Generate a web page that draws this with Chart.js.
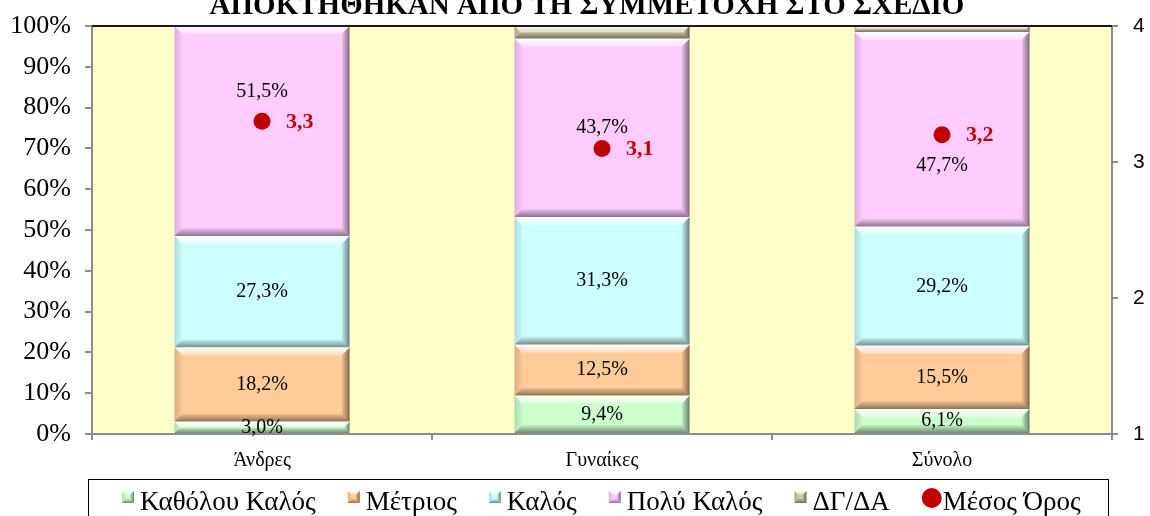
<!DOCTYPE html>
<html>
<head>
<meta charset="utf-8">
<script src="https://cdn.jsdelivr.net/npm/chart.js@4/dist/chart.umd.min.js"></script>
<style>
html,body{margin:0;padding:0;background:#fff;}
#wrap{width:1150px;height:516px;position:relative;overflow:hidden;}
</style>
</head>
<body>
<div id="wrap"><canvas id="c" width="1150" height="516"></canvas></div>
<script>
// ---- data ----
const titleText = 'ΑΠΟΚΤΗΘΗΚΑΝ ΑΠΟ ΤΗ ΣΥΜΜΕΤΟΧΗ ΣΤΟ ΣΧΕΔΙΟ';
const categories = ['Άνδρες', 'Γυναίκες', 'Σύνολο'];
const seriesNames = ['Καθόλου Καλός', 'Μέτριος', 'Καλός', 'Πολύ Καλός', 'ΔΓ/ΔΑ'];
const katholouKalos = [3.0, 9.4, 6.1];
const metrios = [18.2, 12.5, 15.5];
const kalos = [27.3, 31.3, 29.2];
const polyKalos = [51.5, 43.7, 47.7];
const dgda = [0.0, 3.1, 1.5];
const meanName = 'Μέσος Όρος';
const meanValues = [3.3, 3.1, 3.2];
const leftTicks = [0, 10, 20, 30, 40, 50, 60, 70, 80, 90, 100];
const rightTicks = [1, 2, 3, 4];

// ---- styles ----
const colors = ['#CCFFCC', '#FFCC99', '#CCFFFF', '#FFCCFF', '#CFC7A0'];
const meanColor = '#C00000';
const labelShift = [[0,0,0],[0,0,0],[0,0,0],[-39,0,36],[0,0,0]];
const showLabel = [true, true, true, true, false];
const serif = '"Liberation Serif", "Times New Roman", serif';
const sans = '"Liberation Sans", Arial, sans-serif';

const fmt = v => v.toFixed(1).replace('.', ',');

function poly(ctx, pts, fill) {
  ctx.beginPath();
  ctx.moveTo(pts[0][0], pts[0][1]);
  for (let i = 1; i < pts.length; i++) ctx.lineTo(pts[i][0], pts[i][1]);
  ctx.closePath();
  ctx.fillStyle = fill;
  ctx.fill();
}
function bevel(ctx, l, t, r, b, depth) {
  const h = b - t;
  if (h < 1) return;
  const d = Math.min(depth, h / 2, (r - l) / 2);
  let g = ctx.createLinearGradient(0, t, 0, t + d);
  g.addColorStop(0, 'rgba(255,255,255,0.9)');
  g.addColorStop(1, 'rgba(255,255,255,0.35)');
  poly(ctx, [[l, t], [r, t], [r - d, t + d], [l + d, t + d]], g);
  g = ctx.createLinearGradient(0, b - d, 0, b);
  g.addColorStop(0, 'rgba(0,0,0,0.05)');
  g.addColorStop(1, 'rgba(0,0,0,0.45)');
  poly(ctx, [[l, b], [r, b], [r - d, b - d], [l + d, b - d]], g);
  g = ctx.createLinearGradient(l, 0, l + d, 0);
  g.addColorStop(0, 'rgba(0,0,0,0.14)');
  g.addColorStop(1, 'rgba(0,0,0,0.02)');
  poly(ctx, [[l, t], [l + d, t + d], [l + d, b - d], [l, b]], g);
  g = ctx.createLinearGradient(r - d, 0, r, 0);
  g.addColorStop(0, 'rgba(0,0,0,0.04)');
  g.addColorStop(1, 'rgba(0,0,0,0.5)');
  poly(ctx, [[r, t], [r - d, t + d], [r - d, b - d], [r, b]], g);
}

const decorPlugin = {
  id: 'decor',
  beforeDraw(chart) {
    const { ctx, chartArea: a } = chart;
    ctx.save();
    ctx.fillStyle = '#FFFFCC';
    ctx.fillRect(a.left, a.top, a.right - a.left, a.bottom - a.top);
    ctx.restore();
  },
  afterDatasetDraw(chart, args) {
    const meta = args.meta;
    if (meta.type !== 'bar') return;
    const ctx = chart.ctx;
    ctx.save();
    meta.data.forEach(el => {
      const p = el.getProps(['x', 'y', 'base', 'width'], true);
      const l = p.x - p.width / 2, r = p.x + p.width / 2;
      const t = Math.min(p.y, p.base), b = Math.max(p.y, p.base);
      bevel(ctx, l, t, r, b, 8);
    });
    ctx.restore();
  },
  afterDatasetsDraw(chart) {
    const ctx = chart.ctx;
    const a = chart.chartArea;
    ctx.save();
    ctx.strokeStyle = '#1a1a1a';
    ctx.lineWidth = 2;
    ctx.beginPath();
    ctx.moveTo(a.left, a.top);
    ctx.lineTo(a.right, a.top);
    ctx.stroke();
    ctx.font = '20px ' + serif;
    ctx.fillStyle = '#000';
    ctx.textAlign = 'center';
    ctx.textBaseline = 'middle';
    chart.data.datasets.forEach((ds, di) => {
      if (ds.type !== 'bar' || !showLabel[di]) return;
      const meta = chart.getDatasetMeta(di);
      meta.data.forEach((el, i) => {
        const p = el.getProps(['x', 'y', 'base'], true);
        const cy = (p.y + p.base) / 2 + labelShift[di][i];
        ctx.fillText(fmt(ds.data[i]) + '%', p.x, cy);
      });
    });
    const mi = chart.data.datasets.findIndex(d => d.type === 'line');
    const mm = chart.getDatasetMeta(mi);
    ctx.font = 'bold 22px ' + serif;
    ctx.fillStyle = meanColor;
    ctx.textAlign = 'left';
    mm.data.forEach((pt, i) => {
      ctx.fillText(fmt(chart.data.datasets[mi].data[i]), pt.x + 24, pt.y + 1);
    });
    ctx.restore();
  },
  afterDraw(chart) {
    const ctx = chart.ctx;
    ctx.save();
    ctx.font = 'bold 29px ' + serif;
    ctx.fillStyle = '#000';
    ctx.textAlign = 'center';
    ctx.textBaseline = 'alphabetic';
    ctx.fillText(titleText, 587, 14);
    ctx.strokeStyle = '#000';
    ctx.lineWidth = 1;
    ctx.strokeRect(88.5, 479.5, 1020, 60);
    ctx.font = '27px ' + serif;
    ctx.textAlign = 'left';
    let x = 122;
    const baseY = 510;
    chart.data.datasets.forEach((ds, di) => {
      if (ds.type === 'bar') {
        ctx.fillStyle = colors[di];
        ctx.fillRect(x, 491, 12, 12);
        bevel(ctx, x, 491, x + 12, 503, 4);
        x += 18;
      } else {
        ctx.fillStyle = meanColor;
        ctx.beginPath();
        ctx.arc(x + 10, 498, 10, 0, Math.PI * 2);
        ctx.fill();
        x += 21;
      }
      ctx.fillStyle = '#000';
      ctx.fillText(ds.label, x, baseY);
      x += ctx.measureText(ds.label).width + 32;
    });
    ctx.restore();
  }
};

const seriesData = [katholouKalos, metrios, kalos, polyKalos, dgda];
const datasets = seriesData.map((arr, i) => ({
  type: 'bar',
  label: seriesNames[i],
  data: arr,
  backgroundColor: colors[i],
  borderWidth: 0,
  yAxisID: 'y',
  barPercentage: 0.515,
  categoryPercentage: 1.0
}));
datasets.push({
  type: 'line',
  label: meanName,
  data: meanValues,
  yAxisID: 'y1',
  showLine: false,
  pointRadius: 8.5,
  pointHoverRadius: 8.5,
  pointBackgroundColor: meanColor,
  pointBorderColor: meanColor,
  pointBorderWidth: 0,
  order: -1
});

function fixV(width) {
  return function (s) {
    s.width = width;
    s.paddingTop = 0;
    s.paddingBottom = 0;
  };
}

new Chart(document.getElementById('c'), {
  data: { labels: categories, datasets },
  plugins: [decorPlugin],
  options: {
    responsive: false,
    animation: false,
    layout: { padding: { top: 26, left: 0, right: 0, bottom: 0 } },
    plugins: { legend: { display: false }, tooltip: { enabled: false } },
    scales: {
      x: {
        stacked: true,
        grid: { offset: true, drawOnChartArea: false, drawTicks: true, tickLength: 6, color: '#8c8c8c', lineWidth: 2 },
        border: { color: '#8c8c8c', width: 2 },
        ticks: { font: { family: serif, size: 20 }, color: '#000', padding: 9 },
        afterFit(s) { s.height = 82; s.paddingLeft = 0; s.paddingRight = 0; }
      },
      y: {
        stacked: true,
        position: 'left',
        min: 0, max: 100,
        afterBuildTicks(s) { s.ticks = leftTicks.map(v => ({ value: v })); },
        ticks: { font: { family: serif, size: 26 }, color: '#000', padding: 14, callback: v => v + '%' },
        grid: { drawOnChartArea: false, drawTicks: true, tickLength: 7, color: '#8c8c8c', lineWidth: 2 },
        border: { color: '#8c8c8c', width: 2 },
        afterFit: fixV(92)
      },
      y1: {
        position: 'right',
        min: 1, max: 4,
        afterBuildTicks(s) { s.ticks = rightTicks.map(v => ({ value: v })); },
        ticks: { font: { family: sans, size: 21 }, color: '#000', padding: 15 },
        grid: { drawOnChartArea: false, drawTicks: true, tickLength: 6, color: '#8c8c8c', lineWidth: 2 },
        border: { color: '#8c8c8c', width: 2 },
        afterFit: fixV(38)
      }
    }
  }
});
</script>
</body>
</html>
